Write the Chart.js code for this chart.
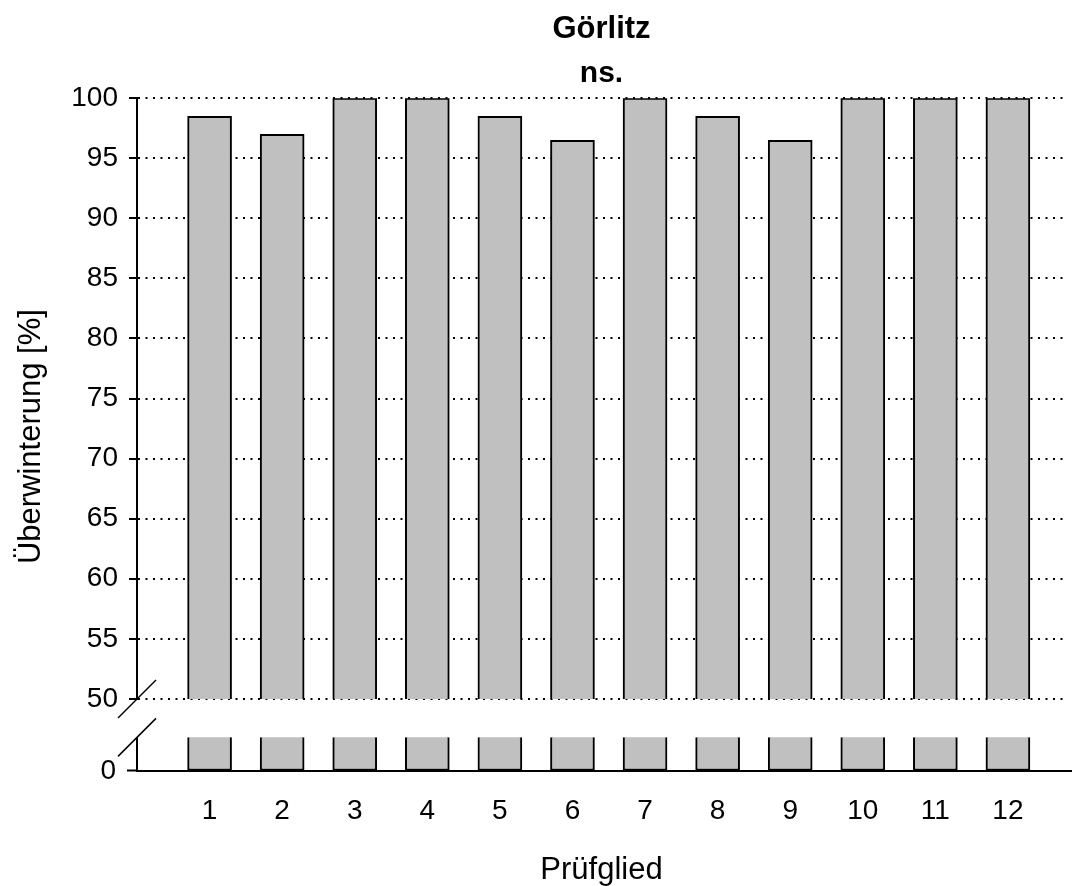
<!DOCTYPE html>
<html>
<head>
<meta charset="utf-8">
<script src="https://cdn.jsdelivr.net/npm/chart.js@4.4.0/dist/chart.umd.min.js"></script>
<style>
  body { margin: 0; background: #fff; }
  #wrap { width: 1072px; height: 886px; }
</style>
</head>
<body>
<div id="wrap"><canvas id="myChart"></canvas></div>
<script>
// data
const categories = [1, 2, 3, 4, 5, 6, 7, 8, 9, 10, 11, 12]
const values = [98.5, 97, 100, 100, 98.5, 96.5, 100, 98.5, 96.5, 100, 100, 100]
const yTicks = [50, 55, 60, 65, 70, 75, 80, 85, 90, 95, 100]
const lowTicks = [0]
const stubTop = 2.8   // visible part of each bar below the axis break

const FONT = '"Liberation Sans", Arial, sans-serif'
Chart.defaults.font.family = FONT
Chart.defaults.color = '#000'

// y axis line below the break, the two break marks and the y title
const axisBreak = {
    id: 'axisBreak',
    afterDraw(chart) {
        const {ctx, chartArea} = chart
        const yTop = chart.scales.y
        const yLow = chart.scales.yLow
        const ax = chartArea.left
        const p1 = yTop.getPixelForValue(yTicks[0])
        const p2 = yLow.getPixelForValue(stubTop)
        const p0 = yLow.getPixelForValue(0)
        ctx.save()
        ctx.strokeStyle = '#000'
        ctx.lineWidth = 2
        ctx.beginPath()
        ctx.moveTo(ax, p0)
        ctx.lineTo(ax, p2)
        ctx.stroke()
        ctx.lineWidth = 1.5
        ;[p1, p2].forEach(p => {
            ctx.beginPath()
            ctx.moveTo(ax - 19, p + 19)
            ctx.lineTo(ax + 19, p - 19)
            ctx.stroke()
        })
        // x axis runs on to the right edge
        ctx.lineWidth = 2
        ctx.beginPath()
        ctx.moveTo(chartArea.right - 1, chartArea.bottom)
        ctx.lineTo(chart.width, chartArea.bottom)
        ctx.stroke()

        ctx.translate(31, (chartArea.top + chartArea.bottom) / 2 + 2)
        ctx.rotate(-Math.PI / 2)
        ctx.font = '31px ' + FONT
        ctx.fillStyle = '#000'
        ctx.textAlign = 'center'
        ctx.textBaseline = 'middle'
        ctx.fillText('Überwinterung [%]', 0, 0)
        ctx.restore()
    }
}

const barStyle = {
    backgroundColor: '#c0c0c0',
    borderColor: '#000',
    borderWidth: 2,
    barThickness: 44,
    grouped: false
}

var ctx = document.getElementById('myChart')
var myChart = new Chart(ctx, {
    type: 'bar',
    data: {
        datasets: [
            Object.assign({
                label: 'Überwinterung',
                data: categories.map((c, i) => ({x: c, y: values[i]})),
                yAxisID: 'y',
                borderSkipped: 'bottom'
            }, barStyle),
            Object.assign({
                label: 'break',
                data: categories.map(c => ({x: c, y: stubTop})),
                yAxisID: 'yLow',
                borderSkipped: 'top'
            }, barStyle)
        ]
    },
    options: {
        responsive: true,
        maintainAspectRatio: false,
        animation: false,
        layout: {padding: {right: 6}},
        plugins: {
            legend: {display: false},
            tooltip: {enabled: false},
            title: {
                display: true,
                text: 'Görlitz',
                fullSize: false,
                color: '#000',
                font: {size: 31, weight: 'bold'},
                padding: {top: 11, bottom: 4}
            },
            subtitle: {
                display: true,
                text: 'ns.',
                fullSize: false,
                color: '#000',
                font: {size: 30, weight: 'bold'},
                padding: {top: 4, bottom: 6}
            }
        },
        scales: {
            x: {
                type: 'linear',
                offset: false,
                min: 0,
                max: 12.8,
                afterBuildTicks: s => { s.ticks = categories.map(v => ({value: v})) },
                afterFit: s => { s.height = 115 },
                grid: {display: false, drawTicks: false},
                border: {display: true, color: '#000', width: 2},
                ticks: {font: {size: 28}, padding: 23, color: '#000'},
                title: {
                    display: true,
                    text: 'Prüfglied',
                    color: '#000',
                    font: {size: 31, lineHeight: 1},
                    padding: {top: 0, bottom: 0}
                }
            },
            yLow: {
                type: 'linear',
                position: 'left',
                stack: 'yaxis',
                stackWeight: 72,
                min: 0,
                max: 6,
                afterBuildTicks: s => { s.ticks = lowTicks.map(v => ({value: v})) },
                afterFit: s => { s.width = 137 },
                ticks: {font: {size: 28}, padding: 11, color: '#000'},
                grid: {
                    drawOnChartArea: false,
                    tickLength: 10,
                    tickColor: '#000',
                    tickWidth: 2
                },
                border: {display: false}
            },
            y: {
                type: 'linear',
                position: 'left',
                stack: 'yaxis',
                stackWeight: 600,
                min: 50,
                max: 100,
                afterBuildTicks: s => { s.ticks = yTicks.map(v => ({value: v})) },
                afterFit: s => { s.width = 137 },
                ticks: {font: {size: 28}, padding: 11, color: '#000'},
                grid: {
                    color: '#000',
                    lineWidth: 2,
                    tickLength: 8,
                    tickBorderDash: [],
                    tickColor: '#000',
                    tickWidth: 2
                },
                border: {display: true, color: '#000', width: 2, dash: [2, 5.5]}
            }
        }
    },
    plugins: [axisBreak]
})
</script>
</body>
</html>
